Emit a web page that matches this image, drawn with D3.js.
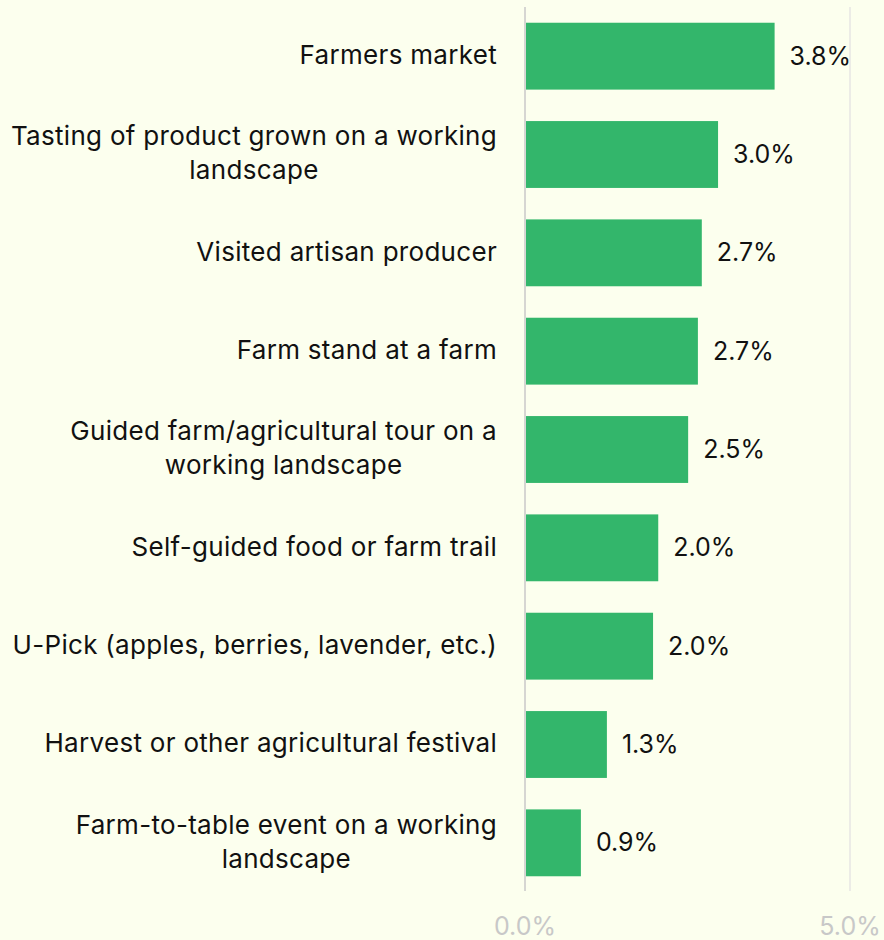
<!DOCTYPE html>
<html>
<head>
<meta charset="utf-8">
<script src="https://cdn.jsdelivr.net/npm/d3@7"></script>
<style>
  body { margin: 0; background: #fcffee; }
  svg { display: block; font-family: Inter, "Liberation Sans", sans-serif; }
</style>
</head>
<body>
<svg id="chart" width="884" height="940"></svg>
<script>
var categories = [
  "Farmers market",
  "Tasting of product grown on a working landscape",
  "Visited artisan producer",
  "Farm stand at a farm",
  "Guided farm/agricultural tour on a working landscape",
  "Self-guided food or farm trail",
  "U-Pick (apples, berries, lavender, etc.)",
  "Harvest or other agricultural festival",
  "Farm-to-table event on a working landscape"
];
var values = [3.84, 2.97, 2.72, 2.66, 2.51, 2.05, 1.97, 1.26, 0.86];
var ticks = [0, 5];

var svg = d3.select("#chart");
var fmt = function(d){ return d3.format(".1f")(d) + "%"; };

var x = d3.scaleLinear()
  .domain([0, 5])
  .range([525, 850]);

var y = d3.scaleBand()
  .domain(categories)
  .range([7, 892])
  .paddingInner(0.32)
  .paddingOuter(0.16);

// gridlines
svg.selectAll("line.grid")
  .data(ticks)
  .enter().append("line")
  .attr("class", "grid")
  .attr("x1", function(d){ return x(d); })
  .attr("x2", function(d){ return x(d); })
  .attr("y1", 7)
  .attr("y2", 891)
  .attr("stroke", function(d){ return d === 0 ? "#d6d6d2" : "#ececE6"; })
  .attr("stroke-width", 2);

// axis labels
svg.selectAll("text.tick")
  .data(ticks)
  .enter().append("text")
  .attr("class", "tick")
  .attr("x", function(d){ return x(d); })
  .attr("y", 935)
  .attr("text-anchor", "middle")
  .attr("fill", "#c8c8c8")
  .style("font-size", "25px")
  .text(fmt);

// bars
svg.selectAll("rect.bar")
  .data(values)
  .enter().append("rect")
  .attr("class", "bar")
  .attr("x", x(0) + 1)
  .attr("y", function(d, i){ return y(categories[i]); })
  .attr("width", function(d){ return x(d) - x(0) - 1; })
  .attr("height", y.bandwidth())
  .attr("fill", "#33b66b");

// value labels
svg.selectAll("text.value")
  .data(values)
  .enter().append("text")
  .attr("class", "value")
  .attr("x", function(d){ return x(d) + 15; })
  .attr("y", function(d, i){ return y(categories[i]) + y.bandwidth() / 2; })
  .attr("dy", "0.34em")
  .attr("fill", "#111")
  .style("font-size", "25px")
  .text(fmt);

// category labels, wrapped, centred on the widest line
var labels = svg.selectAll("text.cat")
  .data(categories)
  .enter().append("text")
  .attr("class", "cat")
  .attr("fill", "#111")
  .style("font-size", "26px")
  .style("letter-spacing", "0.3px");

labels.each(function(d) {
  var el = d3.select(this),
      words = d.split(" "),
      lines = [], line = [], maxW = 0;
  var probe = el.append("tspan");
  words.forEach(function(w) {
    line.push(w);
    probe.text(line.join(" "));
    if (probe.node().getComputedTextLength() > 505 && line.length > 1) {
      line.pop();
      lines.push(line.join(" "));
      line = [w];
    }
  });
  lines.push(line.join(" "));
  lines.forEach(function(l) {
    probe.text(l);
    maxW = Math.max(maxW, probe.node().getComputedTextLength());
  });
  probe.remove();

  var cy = y(d) + y.bandwidth() / 2,
      lh = 34,
      top = cy - (lines.length - 1) * lh / 2;
  lines.forEach(function(l, i) {
    el.append("tspan")
      .attr("x", 497 - maxW / 2)
      .attr("text-anchor", "middle")
      .attr("y", top + i * lh)
      .attr("dy", "0.3em")
      .text(l);
  });
});
</script>
</body>
</html>
